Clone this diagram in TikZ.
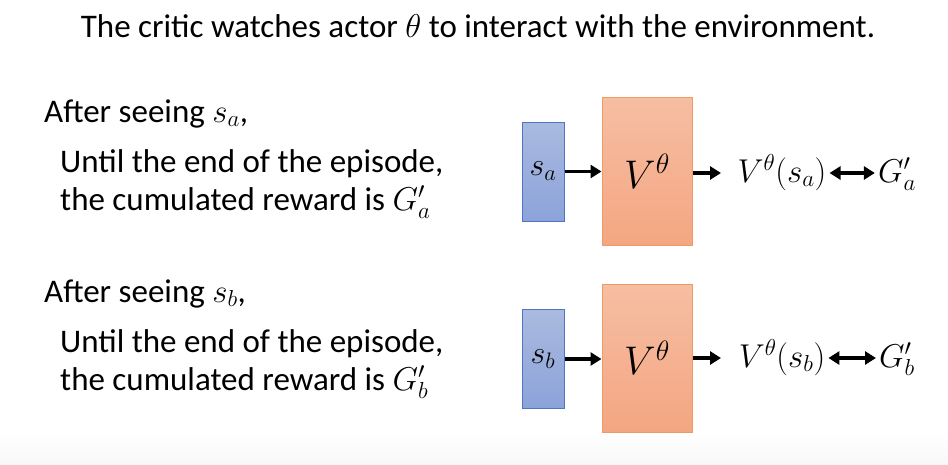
\documentclass[tikz,border=0pt]{standalone}
\usepackage{fix-cm}
\usepackage{fontspec}
\setmainfont{Carlito}
\usetikzlibrary{arrows.meta}
\definecolor{bluefillT}{HTML}{AABADF}
\definecolor{bluefillB}{HTML}{8CA3DA}
\definecolor{blueline}{HTML}{4F75C6}
\definecolor{orfillT}{HTML}{F6BEA2}
\definecolor{orfillB}{HTML}{F4A682}
\definecolor{orline}{HTML}{EE9A62}
\tikzset{
  inbox/.style={draw=blueline, line width=1pt, top color=bluefillT, bottom color=bluefillB,
    minimum width=42pt, minimum height=99pt, inner sep=0pt, font=\fontsize{32}{36}\selectfont},
  netbox/.style={draw=orline, line width=1pt, top color=orfillT, bottom color=orfillB,
    minimum width=90pt, minimum height=148pt, inner sep=0pt, font=\fontsize{40}{46}\selectfont},
  mtext/.style={inner sep=0pt, font=\fontsize{33}{38}\selectfont},
  body/.style={anchor=base west, inner sep=0pt, font=\fontsize{33}{38}\selectfont},
  arr/.style={line width=3.5pt, -{Triangle[length=11pt,width=13pt]}},
  darr/.style={line width=3.5pt, {Triangle[length=11pt,width=13pt]}-{Triangle[length=11pt,width=13pt]}}
}
\begin{document}
\begin{tikzpicture}[x=1pt,y=-1pt]
\useasboundingbox (0,0) rectangle (948,464);
\shade[top color=white, bottom color=black!3] (0,432) rectangle (948,464);
\node[anchor=base, inner sep=0pt, font=\fontsize{33}{40}\selectfont] (title) at (478,37) {The critic watches actor $\theta$ to interact with the environment.};
% row a
\node[body] (afta) at (44,122) {After seeing $s_a$,};
\node[body] (desca) at (60,172) {\begin{tabular}[t]{@{}l@{}}Until the end of the episode,\\ the cumulated reward is $G'_a$\end{tabular}};
\node[inbox] (sa) at (543,171.5) {$s_a$};
\node[netbox] (Va) at (647,171.5) {$V^\theta$};
\node[mtext, anchor=base] (outa) at (782,182) {$V^\theta(s_a)$};
\node[mtext, anchor=base] (Ga) at (897,182) {$G'_a$};
\coordinate (oa) at (721,173);
\draw[arr] (sa.east) -- (Va.west |- sa.east);
\draw[arr] (Va.east |- oa) -- (oa);
\draw[darr] (outa.east |- oa) ++(3,0) -- ([xshift=-3pt]Ga.west |- oa);
% row b
\node[body] (aftb) at (44,302) {After seeing $s_b$,};
\node[body] (descb) at (60,352) {\begin{tabular}[t]{@{}l@{}}Until the end of the episode,\\ the cumulated reward is $G'_b$\end{tabular}};
\node[inbox] (sb) at (543,359) {$s_b$};
\node[netbox] (Vb) at (647,358) {$V^\theta$};
\node[mtext, anchor=base] (outb) at (782,367) {$V^\theta(s_b)$};
\node[mtext, anchor=base] (Gb) at (897,367) {$G'_b$};
\coordinate (ob) at (721,358);
\draw[arr] (sb.east) -- (Vb.west |- sb.east);
\draw[arr] (Vb.east |- ob) -- (ob);
\draw[darr] (outb.east |- ob) ++(3,0) -- ([xshift=-3pt]Gb.west |- ob);
\end{tikzpicture}
\end{document}
